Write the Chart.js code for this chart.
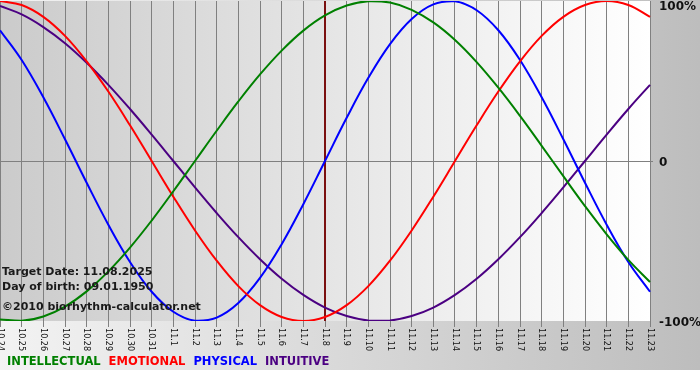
<!DOCTYPE html>
<html>
<head>
<meta charset="utf-8">
<title>Biorhythm</title>
<script src="https://cdn.jsdelivr.net/npm/chart.js@4/dist/chart.umd.min.js"></script>
<style>
  body { margin: 0; background: #fff; }
  #wrap { width: 700px; height: 380px; }
</style>
</head>
<body>
<div id="wrap"><canvas id="myChart" width="700" height="380"></canvas></div>
<script>
// days shown on the x axis
var days = ["10.24", "10.25", "10.26", "10.27", "10.28", "10.29", "10.30", "10.31",
  "11.1", "11.2", "11.3", "11.4", "11.5", "11.6", "11.7", "11.8", "11.9", "11.10",
  "11.11", "11.12", "11.13", "11.14", "11.15", "11.16", "11.17", "11.18", "11.19",
  "11.20", "11.21", "11.22", "11.23"];

// cycle values in percent, one per day
var intellectual = [-99.0, -99.9, -97.2, -91.0, -81.5, -69.0, -54.1, -37.2, -18.9, 0, 18.9,
  37.2, 54.1, 69.0, 81.5, 91.0, 97.2, 99.9, 99.0, 94.5, 86.6, 75.6, 61.8, 45.8, 28.2, 9.5,
  -9.5, -28.2, -45.8, -61.8, -75.6];
var emotional = [100, 97.5, 90.1, 78.2, 62.3, 43.4, 22.3, 0, -22.3, -43.4, -62.3, -78.2,
  -90.1, -97.5, -100, -97.5, -90.1, -78.2, -62.3, -43.4, -22.3, 0, 22.3, 43.4, 62.3, 78.2,
  90.1, 97.5, 100, 97.5, 90.1];
var physical = [81.7, 63.1, 39.8, 13.6, -13.6, -39.8, -63.1, -81.7, -94.2, -99.8, -97.9,
  -88.8, -73.1, -52.0, -27.0, 0, 27.0, 52.0, 73.1, 88.8, 97.9, 99.8, 94.2, 81.7, 63.1, 39.8,
  13.6, -13.6, -39.8, -63.1, -81.7];
var intuitive = [96.9, 91.6, 83.7, 73.6, 61.4, 47.6, 32.5, 16.5, 0, -16.5, -32.5, -47.6,
  -61.4, -73.6, -83.7, -91.6, -96.9, -99.7, -99.7, -96.9, -91.6, -83.7, -73.6, -61.4, -47.6,
  -32.5, -16.5, 0, 16.5, 32.5, 47.6];

var seriesNames = ["INTELLECTUAL", "EMOTIONAL", "PHYSICAL", "INTUITIVE"];
var seriesColors = ["#008000", "#ff0000", "#0000ff", "#4b0082"];
var yTicks = [100, 0, -100];
var targetDay = "11.8";
var infoLines = ["Target Date: 11.08.2025", "Day of birth: 09.01.1950", "\u00a92010 biorhythm-calculator.net"];

//backgrounds, target line, rotated labels, info text and legend
var decor = {
  id: 'decor',
  beforeDraw: function (chart) {
    var c = chart.ctx, a = chart.chartArea;
    c.save();
    var g = c.createLinearGradient(0, 0, chart.width, 0);
    g.addColorStop(0, '#f3f3f3');
    g.addColorStop(1, '#bdbdbd');
    c.fillStyle = g;
    c.fillRect(0, 0, chart.width, 370);
    c.fillStyle = '#ffffff';
    c.fillRect(0, 370, chart.width, chart.height - 370);
    var g2 = c.createLinearGradient(a.left, 0, a.right, 0);
    g2.addColorStop(0, '#cbcbcb');
    g2.addColorStop(1, '#ffffff');
    c.fillStyle = g2;
    c.fillRect(a.left, a.top, a.right - a.left, a.bottom - a.top);
    c.restore();
  },
  beforeDatasetsDraw: function (chart) {
    var c = chart.ctx, a = chart.chartArea;
    var x = chart.scales.x.getPixelForValue(days.indexOf(targetDay));
    c.save();
    c.strokeStyle = '#7b1010';
    c.lineWidth = 2;
    c.beginPath();
    c.moveTo(x, a.top);
    c.lineTo(x, a.bottom);
    c.stroke();
    c.restore();
  },
  afterDraw: function (chart) {
    var c = chart.ctx, a = chart.chartArea;
    var xs = chart.scales.x, ys = chart.scales.y;
    c.save();
    // x labels, reading downwards
    c.font = '9px "DejaVu Sans Condensed", "DejaVu Sans"';
    c.fillStyle = '#111';
    c.textAlign = 'left';
    c.textBaseline = 'middle';
    days.forEach(function (d, i) {
      c.save();
      c.translate(xs.getPixelForValue(i), a.bottom + 7);
      c.rotate(Math.PI / 2);
      c.fillText(d, 0, 0);
      c.restore();
    });
    // y labels
    c.font = 'bold 12px "DejaVu Sans"';
    c.fillStyle = '#111';
    yTicks.forEach(function (v) {
      var y = Math.max(ys.getPixelForValue(v) + 2, 7);
      c.fillText(v === 0 ? '0' : v + '%', a.right + 9, y);
    });
    // info text
    c.font = 'bold 11px "DejaVu Sans"';
    c.fillStyle = '#1a1a1a';
    c.fillText(infoLines[0], 2, 272);
    c.fillText(infoLines[1], 2, 287);
    c.fillText(infoLines[2], 2, 307);
    // legend
    c.font = 'bold 11.5px "DejaVu Sans"';
    var lx = 7;
    seriesNames.forEach(function (n, i) {
      c.fillStyle = seriesColors[i];
      c.fillText(n, lx, 362);
      lx += c.measureText(n).width + 8;
    });
    c.restore();
  }
};

var ctx = document.getElementById('myChart').getContext('2d');
var seriesData = [intellectual, emotional, physical, intuitive];

var myChart = new Chart(ctx, {
  type: 'line',
  data: {
    labels: days,
    datasets: seriesNames.map(function (n, i) {
      return {
        label: n,
        data: seriesData[i],
        borderColor: seriesColors[i],
        borderWidth: 2,
        pointRadius: 0,
        tension: 0.4,
        fill: false
      };
    })
  },
  options: {
    responsive: false,
    animation: false,
    layout: { padding: { top: 1, left: 0, right: 0, bottom: 0 } },
    plugins: {
      legend: { display: false },
      tooltip: { enabled: false }
    },
    scales: {
      x: {
        offset: false,
        border: { display: false },
        grid: { color: '#808080', lineWidth: 1, tickLength: 6 },
        ticks: { display: false },
        afterFit: function (s) { s.height = 59; }
      },
      y: {
        position: 'right',
        min: -100,
        max: 100,
        border: { display: false },
        afterBuildTicks: function (s) {
          s.ticks = yTicks.map(function (v) { return { value: v }; });
        },
        grid: {
          tickLength: 3,
          color: function (c) { return c.tick && c.tick.value === 0 ? '#808080' : 'rgba(0,0,0,0)'; }
        },
        ticks: { display: false },
        afterFit: function (s) { s.width = 50; }
      }
    }
  },
  plugins: [decor]
});
</script>
</body>
</html>
